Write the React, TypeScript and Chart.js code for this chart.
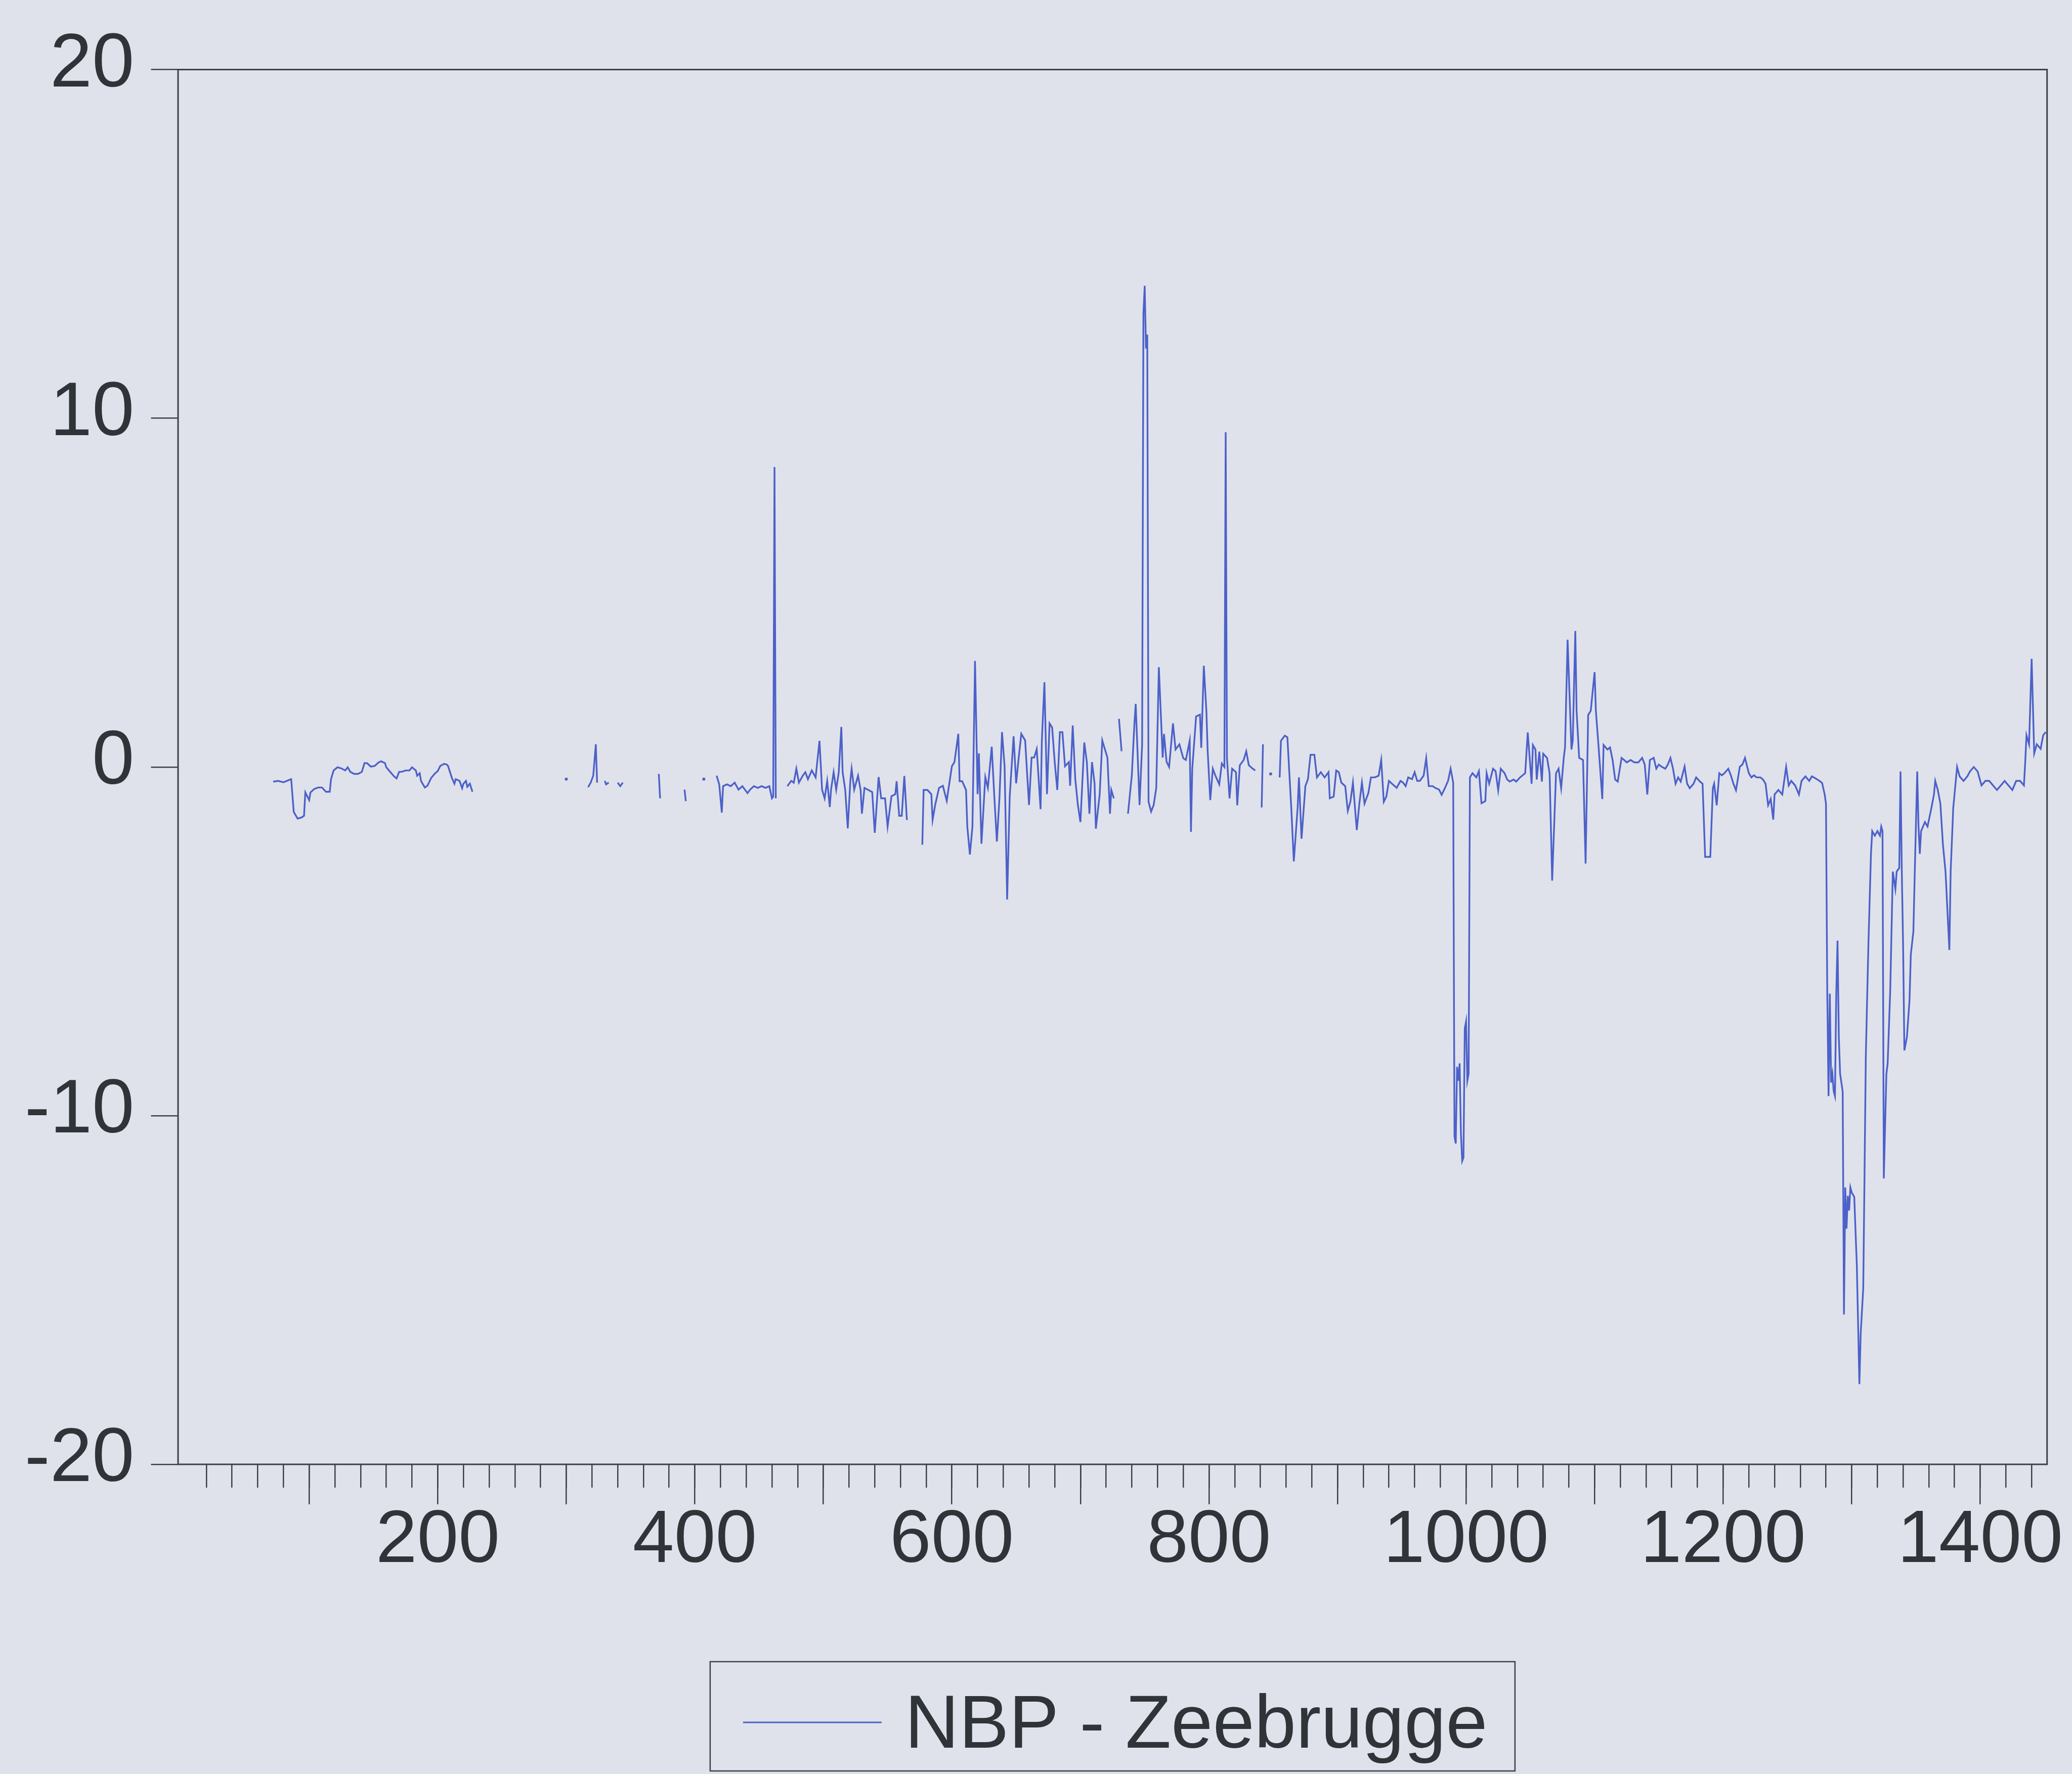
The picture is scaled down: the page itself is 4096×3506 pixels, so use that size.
import { useEffect, useRef } from "react";
import { Chart, registerables } from "chart.js";

Chart.register(...registerables);

// ---- chart data -------------------------------------------------------
const seriesName = "NBP - Zeebrugge";
const yTickValues = [-20, -10, 0, 10, 20];
const xLabelValues = [200, 400, 600, 800, 1000, 1200, 1400];
const xMinorStep = 20;
const xMajorStep = 100;
const xBounds = [-2, 1452];

// Each run is an unbroken stretch of [observation, spread] pairs.
// Gaps in the series fall between runs.
const run01: [number, number][] = [
  [72, -0.42], [76, -0.4], [80, -0.44], [84, -0.38], [86, -0.35], [88, -1.29], [91, -1.48], [94, -1.45],
  [96, -1.4], [97, -0.73], [100, -0.95], [101, -0.73], [104, -0.63], [107, -0.59], [110, -0.59], [113, -0.71],
  [116, -0.71], [117, -0.35], [119, -0.1], [122, -0.01], [125, -0.04], [128, -0.1], [130, -0.01], [132, -0.14],
  [135, -0.2], [138, -0.2], [141, -0.14], [143, 0.11], [145, 0.11], [148, 0.01], [151, 0.03], [154, 0.13],
  [156, 0.16], [159, 0.11], [160, -0.01], [163, -0.14], [166, -0.27], [168, -0.33], [170, -0.14], [172, -0.14],
  [175, -0.1], [178, -0.1], [180, -0.01], [183, -0.1], [184, -0.25], [186, -0.18], [187, -0.4], [190, -0.59],
  [192, -0.54], [195, -0.31], [198, -0.18], [200, -0.12], [202, 0.03], [205, 0.09], [207, 0.07], [208, 0.03],
  [211, -0.31], [213, -0.48], [214, -0.35], [217, -0.4], [219, -0.61], [220, -0.48], [222, -0.4], [223, -0.57],
  [225, -0.48], [227, -0.71],
];
const run02: [number, number][] = [[300, -0.35]];
const run03: [number, number][] = [[317, -0.58], [319, -0.45], [321, -0.25], [323, 0.65], [324, -0.45]];
const run04: [number, number][] = [[330, -0.4], [331, -0.5], [333, -0.45]];
const run05: [number, number][] = [[340, -0.45], [342, -0.55], [344, -0.45]];
const run06: [number, number][] = [[372, -0.2], [373, -0.9]];
const run07: [number, number][] = [[392, -0.65], [393, -0.98]];
const run08: [number, number][] = [[407, -0.35]];
const run09: [number, number][] = [
  [417, -0.25], [419, -0.5], [421, -1.31], [422, -0.55], [425, -0.5], [428, -0.55], [431, -0.45], [434, -0.65],
  [437, -0.55], [441, -0.75], [443, -0.65], [446, -0.55], [449, -0.6], [452, -0.55], [455, -0.6], [458, -0.55],
  [460, -0.9], [461, -0.85], [462, 8.6], [463, -0.9],
];
const run10: [number, number][] = [
  [472, -0.55], [475, -0.4], [477, -0.45], [479, -0.05], [481, -0.45], [484, -0.25], [486, -0.15], [488, -0.35],
  [491, -0.1], [494, -0.3], [497, 0.75], [499, -0.65], [501, -0.9], [503, -0.4], [505, -1.15], [506, -0.65],
  [508, -0.15], [510, -0.65], [512, -0.15], [514, 1.15], [515, -0.15], [517, -0.65], [519, -1.76], [521, -0.4],
  [522, -0.05], [524, -0.65], [527, -0.25], [529, -0.66], [530, -1.34], [532, -0.6], [535, -0.66], [538, -0.72],
  [540, -1.89], [543, -0.29], [545, -0.9], [548, -0.9], [550, -1.71], [553, -0.84], [556, -0.78], [557, -0.41],
  [559, -1.4], [561, -1.4], [563, -0.26], [565, -1.52],
];
const run11: [number, number][] = [
  [577, -2.23], [578, -0.66], [581, -0.66], [584, -0.78], [585, -1.52], [587, -1.09], [590, -0.6], [593, -0.54],
  [596, -0.97], [598, -0.47], [600, 0.02], [602, 0.14], [605, 0.95], [606, -0.41], [608, -0.41], [611, -0.66],
  [612, -1.71], [614, -2.51], [616, -1.71], [618, 3.04], [620, -0.78], [621, 0.39], [622, -0.9], [623, -2.2],
  [626, -0.29], [628, -0.6], [631, 0.58], [633, -0.84], [635, -2.14], [637, -0.9], [639, 1.0], [641, 0.02],
  [643, -3.8], [645, -0.84], [648, 0.88], [650, -0.47], [652, 0.27], [654, 0.95], [657, 0.76], [658, 0.14],
  [660, -1.09], [662, 0.27], [664, 0.27], [666, 0.51], [669, -1.21], [670, 0.76], [672, 2.43], [674, -0.78],
  [676, 1.25], [678, 1.13], [680, 0.14], [682, -0.66], [684, 1.0], [686, 1.0], [688, 0.02], [691, 0.14],
  [692, -0.54], [694, 1.19], [696, -0.35], [698, -1.09], [700, -1.58], [703, 0.7], [705, 0.14], [707, -1.34],
  [709, 0.14], [711, -0.47], [712, -1.77], [715, -0.78], [717, 0.76], [719, 0.51], [721, 0.27], [723, -1.34],
  [724, -0.66], [726, -0.9],
];
const run12: [number, number][] = [[730, 1.38], [732, 0.45]];
const run13: [number, number][] = [
  [737, -1.34], [740, -0.23], [742, 1.25], [743, 1.81], [746, -1.09], [748, 0.64], [749, 13.0], [750, 13.8],
  [751, 12.0], [752, 12.4], [753, -1.0], [755, -1.28], [757, -1.09], [759, -0.6], [761, 2.86], [764, 0.27],
  [765, 0.95], [767, 0.15], [769, 0.0], [772, 1.25], [774, 0.5], [777, 0.65], [780, 0.25], [782, 0.2],
  [785, 0.75], [786, -1.86], [787, -0.05], [790, 1.45], [793, 1.5], [794, 0.55], [796, 2.9], [798, 1.6],
  [799, 0.45], [801, -0.95], [803, -0.05], [805, -0.25], [808, -0.5], [810, 0.1], [812, 0.0], [813, 9.6],
  [814, 0.25], [816, -0.9], [818, -0.05], [821, -0.15], [822, -1.1], [824, 0.05], [827, 0.2], [829, 0.45],
  [831, 0.05], [834, -0.05], [836, -0.1],
];
const run14: [number, number][] = [[841, -1.16], [842, 0.65]];
const run15: [number, number][] = [[848, -0.2]];
const run16: [number, number][] = [
  [855, -0.3], [856, 0.75], [859, 0.9], [861, 0.85], [864, -1.16], [866, -2.71], [869, -1.16], [870, -0.3],
  [872, -2.06], [875, -0.55], [877, -0.35], [879, 0.35], [882, 0.35], [884, -0.3], [887, -0.15], [890, -0.3],
  [893, -0.15], [894, -0.9], [897, -0.85], [899, -0.1], [901, -0.15], [903, -0.45], [906, -0.55], [908, -1.26],
  [910, -1.0], [912, -0.45], [915, -1.81], [917, -1.05], [919, -0.45], [921, -1.05], [924, -0.75], [926, -0.3],
  [929, -0.3], [932, -0.25], [934, 0.2], [936, -1.0], [938, -0.85], [940, -0.4], [943, -0.5], [946, -0.6],
  [949, -0.4], [951, -0.45], [953, -0.55], [955, -0.3], [958, -0.35], [960, -0.15], [962, -0.4], [964, -0.4],
  [967, -0.25], [969, 0.25], [971, -0.55], [974, -0.55], [976, -0.6], [979, -0.65], [981, -0.8], [983, -0.65],
  [986, -0.4], [988, -0.05], [990, -0.45],
  [991, -10.6], [992, -10.8], [993, -8.6], [994, -9.0], [995, -8.5], [996, -10.5], [997, -11.3], [998, -11.2],
  [999, -7.5], [1000, -7.3], [1001, -9.0], [1002, -8.8], [1003, -0.3],
  [1005, -0.18], [1008, -0.3], [1010, -0.12], [1012, -1.04], [1015, -0.98], [1016, -0.18], [1018, -0.48],
  [1021, -0.05], [1023, -0.12], [1025, -0.67], [1027, -0.05], [1030, -0.18], [1032, -0.36], [1034, -0.42],
  [1037, -0.36], [1039, -0.42], [1042, -0.3], [1044, -0.24], [1046, -0.18], [1048, 0.99], [1051, -0.48],
  [1052, 0.63], [1054, 0.5], [1055, -0.36], [1057, 0.44], [1059, -0.42], [1060, 0.38], [1063, 0.26],
  [1065, -0.18], [1067, -3.26], [1070, -0.18], [1072, -0.05], [1074, -0.61], [1076, 0.26], [1077, 0.56],
  [1079, 3.65], [1082, 0.5], [1083, 0.75], [1085, 3.9], [1086, 1.61], [1088, 0.26], [1091, 0.2], [1093, -2.77],
  [1095, 1.49], [1097, 1.61], [1100, 2.72], [1101, 1.61], [1103, 0.63], [1106, -0.92], [1107, 0.63],
  [1110, 0.5], [1112, 0.56], [1114, 0.2], [1116, -0.36], [1118, -0.42], [1121, 0.26], [1123, 0.2], [1125, 0.13],
  [1128, 0.2], [1131, 0.13], [1134, 0.13], [1137, 0.26], [1139, 0.07], [1141, -0.79], [1143, 0.2], [1146, 0.26],
  [1148, -0.05], [1150, 0.07], [1152, 0.01], [1155, -0.05], [1157, 0.07], [1159, 0.26], [1161, -0.05],
  [1163, -0.48], [1165, -0.3], [1167, -0.42], [1170, 0.01], [1172, -0.48], [1174, -0.61], [1177, -0.48],
  [1179, -0.3], [1182, -0.42], [1184, -0.48], [1186, -2.58], [1190, -2.58], [1192, -0.61], [1193, -0.48],
  [1195, -1.1], [1197, -0.18], [1199, -0.24], [1201, -0.18], [1204, -0.05], [1206, -0.24], [1208, -0.48],
  [1210, -0.67], [1213, 0.01], [1215, 0.07], [1217, 0.26], [1220, -0.18], [1222, -0.3], [1224, -0.24],
  [1226, -0.3], [1229, -0.3], [1231, -0.36], [1233, -0.48], [1235, -1.1],
  [1237, -0.92], [1239, -1.51], [1240, -0.79], [1243, -0.66], [1246, -0.79], [1249, 0.0], [1251, -0.53],
  [1253, -0.4], [1256, -0.53], [1259, -0.79], [1261, -0.4], [1264, -0.27], [1267, -0.4], [1269, -0.27],
  [1272, -0.33], [1275, -0.4], [1277, -0.46], [1279, -0.79], [1280, -1.05], [1281, -6.43], [1282, -9.44],
  [1283, -6.5], [1284, -9.05], [1285, -8.8], [1286, -9.3], [1287, -9.44], [1288, -6.5], [1289, -4.98],
  [1290, -7.74], [1291, -8.8], [1292, -9.05], [1293, -9.31], [1294, -15.7], [1295, -12.06], [1296, -13.24],
  [1297, -12.3], [1298, -12.72], [1299, -12.06], [1300, -12.2], [1302, -12.33], [1304, -14.29], [1306, -17.7],
  [1307, -16.26], [1309, -14.95], [1310, -11.67], [1311, -8.3], [1312, -6.69], [1313, -5.12], [1315, -2.49],
  [1316, -1.84], [1318, -1.97], [1320, -1.84], [1322, -1.97], [1323, -1.71], [1324, -1.84], [1325, -11.8],
  [1327, -8.8], [1328, -8.5], [1330, -6.4], [1332, -3.0], [1334, -3.5], [1335, -3.0], [1337, -2.9],
  [1338, -0.13], [1339, -3.0], [1340, -5.1], [1341, -8.13], [1343, -7.74], [1345, -6.69], [1346, -5.38],
  [1348, -4.72], [1349, -3.15], [1351, -0.13], [1352, -1.71], [1353, -2.49], [1354, -1.84], [1357, -1.58],
  [1359, -1.71], [1362, -1.18], [1364, -0.79], [1365, -0.4], [1367, -0.66], [1369, -1.05], [1371, -2.23],
  [1373, -3.0], [1376, -5.25], [1377, -3.0], [1379, -1.18], [1380, -0.79], [1382, 0.0], [1384, -0.27],
  [1387, -0.4], [1390, -0.27], [1392, -0.13], [1395, 0.0], [1398, -0.13], [1401, -0.53], [1404, -0.4],
  [1407, -0.4], [1410, -0.53], [1413, -0.66], [1416, -0.53], [1419, -0.4], [1422, -0.53], [1425, -0.66],
  [1428, -0.4], [1431, -0.4], [1434, -0.53], [1435, 0.13], [1436, 0.91], [1438, 0.65], [1440, 3.1],
  [1442, 0.39], [1444, 0.65], [1447, 0.52], [1449, 0.91], [1451, 1.0],
];

const spreadRuns = [run01, run02, run03, run04, run05, run06, run07, run08,
  run09, run10, run11, run12, run13, run14, run15, run16];

// ---- look -----------------------------------------------------------------
const W = 4096;
const H = 3506;
const BG = "rgb(224,226,235)";
const LINE = "#4c61c9";
const AXIS = "#3b4047";
const TEXT = "#2f3438";
const FONT = "'Liberation Sans', Arial, Helvetica, sans-serif";

const PLOT_LEFT = 352;
const PLOT_RIGHT = 4046.7;
const PLOT_TOP = 137.5;
const PLOT_BOTTOM = 2894;
const X_AXIS_H = 300;

type Pt = { x: number; y: number | null };

function buildPoints(): Pt[] {
  const pts: Pt[] = [];
  spreadRuns.forEach((run, i) => {
    run.forEach(([x, y]) => pts.push({ x, y }));
    if (i < spreadRuns.length - 1) pts.push({ x: run[run.length - 1][0] + 0.5, y: null });
  });
  return pts;
}

const framePlugin = {
  id: "plotFrame",
  afterDraw(chart: any) {
    const { ctx, chartArea } = chart;
    ctx.save();
    ctx.strokeStyle = AXIS;
    ctx.lineWidth = 3;
    ctx.strokeRect(chartArea.left, chartArea.top, chartArea.right - chartArea.left, chartArea.bottom - chartArea.top);
    ctx.restore();
  },
};

const legendBoxPlugin = {
  id: "legendBox",
  afterDraw(chart: any) {
    const { ctx, chartArea } = chart;
    const ds = chart.data.datasets[0];
    const boxW = 1591;
    const boxTop = 3284;
    const boxBottom = 3500;
    const cx = (chartArea.left + chartArea.right) / 2;
    const left = cx - boxW / 2;
    ctx.save();
    ctx.strokeStyle = AXIS;
    ctx.lineWidth = 2.5;
    ctx.strokeRect(left, boxTop, boxW, boxBottom - boxTop);
    ctx.strokeStyle = ds.borderColor;
    ctx.lineWidth = 3;
    ctx.beginPath();
    ctx.moveTo(left + 65, 3404);
    ctx.lineTo(left + 339, 3404);
    ctx.stroke();
    ctx.fillStyle = TEXT;
    ctx.font = `148px ${FONT}`;
    ctx.textBaseline = "alphabetic";
    ctx.textAlign = "left";
    ctx.fillText(ds.label, left + 385, 3454);
    ctx.restore();
  },
};

export default function App() {
  const canvasRef = useRef<HTMLCanvasElement | null>(null);

  useEffect(() => {
    const canvas = canvasRef.current;
    if (!canvas) return;
    const points = buildPoints();
    const hideNonPositive = (c: any) => (c.tick && c.tick.value <= 0 ? "rgba(0,0,0,0)" : AXIS);

    const chart = new Chart(canvas, {
      type: "line",
      data: {
        datasets: [
          {
            label: seriesName,
            data: points as any,
            borderColor: LINE,
            backgroundColor: LINE,
            borderWidth: 3.4,
            tension: 0,
            spanGaps: false,
            fill: false,
            pointHoverRadius: 0,
            pointBorderWidth: 0,
            pointRadius: (c: any) => {
              const i = c.dataIndex;
              const p = points[i];
              if (!p || p.y === null) return 0;
              const prev = points[i - 1];
              const next = points[i + 1];
              const alone = (!prev || prev.y === null) && (!next || next.y === null);
              return alone ? 3 : 0;
            },
          },
        ],
      },
      options: {
        responsive: false,
        animation: false,
        events: [],
        layout: {
          padding: {
            left: 0,
            top: PLOT_TOP,
            right: W - PLOT_RIGHT,
            bottom: H - PLOT_BOTTOM - X_AXIS_H,
          },
        },
        plugins: {
          legend: { display: false },
          tooltip: { enabled: false },
        },
        scales: {
          x: {
            type: "linear",
            position: "bottom",
            weight: 0,
            min: xBounds[0],
            max: xBounds[1],
            afterFit: (s: any) => {
              s.height = 0;
            },
            ticks: { display: false, stepSize: xMinorStep, includeBounds: false, autoSkip: false },
            grid: {
              display: true,
              drawOnChartArea: false,
              drawTicks: true,
              tickLength: 46,
              tickWidth: 2.5,
              lineWidth: 2.5,
              tickColor: hideNonPositive,
            },
            border: { display: false },
          },
          xMajor: {
            type: "linear",
            axis: "x",
            position: "bottom",
            weight: 1,
            min: xBounds[0],
            max: xBounds[1],
            afterFit: (s: any) => {
              s.height = X_AXIS_H;
            },
            ticks: {
              stepSize: xMajorStep,
              includeBounds: false,
              autoSkip: false,
              maxRotation: 0,
              minRotation: 0,
              padding: 0,
              color: TEXT,
              font: { family: FONT, size: 147, lineHeight: 1 },
              callback: (v: any) => (xLabelValues.includes(Number(v)) ? String(v) : ""),
            },
            grid: {
              display: true,
              drawOnChartArea: false,
              drawTicks: true,
              tickLength: 79,
              tickWidth: 2.5,
              lineWidth: 2.5,
              tickColor: hideNonPositive,
            },
            border: { display: false },
          },
          y: {
            type: "linear",
            position: "left",
            min: yTickValues[0],
            max: yTickValues[yTickValues.length - 1],
            afterFit: (s: any) => {
              s.width = PLOT_LEFT;
            },
            afterBuildTicks: (s: any) => {
              s.ticks = yTickValues.map((v) => ({ value: v }));
            },
            ticks: {
              padding: 33,
              color: TEXT,
              font: { family: FONT, size: 150, lineHeight: 0.11 },
              callback: (v: any) => [String(v), ""],
            },
            grid: {
              display: true,
              drawOnChartArea: false,
              drawTicks: true,
              tickLength: 53.5,
              tickWidth: 2.5,
              lineWidth: 2.5,
              tickColor: AXIS,
            },
            border: { display: false },
          },
        },
      } as any,
      plugins: [framePlugin, legendBoxPlugin],
    });

    return () => chart.destroy();
  }, []);

  return (
    <div
      style={{
        position: "fixed",
        left: 0,
        top: 0,
        width: W,
        height: H,
        background: BG,
        overflow: "hidden",
      }}
    >
      <canvas ref={canvasRef} width={W} height={H} style={{ display: "block", width: W, height: H }} />
    </div>
  );
}
